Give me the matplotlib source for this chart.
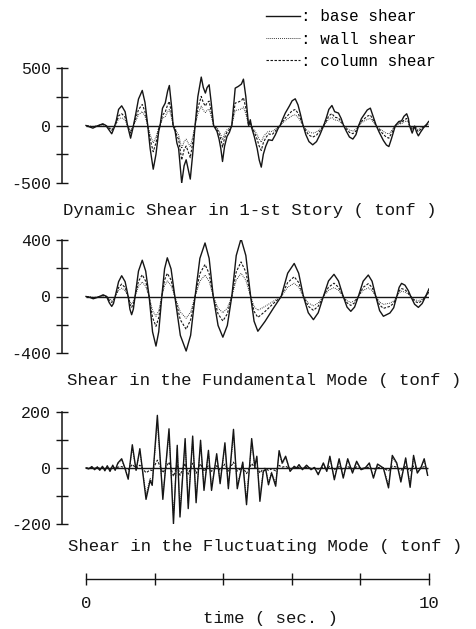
import matplotlib
matplotlib.use("Agg")
import matplotlib.pyplot as plt
from matplotlib.lines import Line2D

plt.rcParams['font.family'] = ['Liberation Mono', 'DejaVu Sans Mono']

# ---- panel 1: dynamic shear in 1-st story (tonf) ----
t1 = [0.00, 0.20, 0.32, 0.49, 0.58, 0.75, 0.82, 0.88, 0.95, 1.04,
      1.14, 1.21, 1.30, 1.37, 1.45, 1.53, 1.64, 1.72, 1.80, 1.87,
      1.96, 2.04, 2.12, 2.16, 2.23, 2.31, 2.38, 2.43, 2.50, 2.54,
      2.60, 2.65, 2.70, 2.73, 2.79, 2.86, 2.92, 2.98, 3.04, 3.11,
      3.18, 3.26, 3.36, 3.42, 3.48, 3.53, 3.59, 3.65, 3.72, 3.82,
      3.88, 3.93, 3.98, 4.04, 4.11, 4.18, 4.25, 4.31, 4.35, 4.44,
      4.53, 4.59, 4.66, 4.74, 4.79, 4.83, 4.91, 4.99, 5.05, 5.11,
      5.17, 5.24, 5.32, 5.43, 5.52, 5.61, 5.66, 5.74, 5.81, 5.93,
      6.01, 6.10, 6.18, 6.25, 6.33, 6.41, 6.50, 6.61, 6.72, 6.82,
      6.93, 7.01, 7.08, 7.17, 7.25, 7.36, 7.44, 7.51, 7.59, 7.68,
      7.78, 7.87, 7.95, 8.03, 8.12, 8.20, 8.29, 8.36, 8.46, 8.55,
      8.67, 8.76, 8.83, 8.90, 9.02, 9.12, 9.20, 9.27, 9.35, 9.40,
      9.43, 9.51, 9.58, 9.64, 9.69, 9.75, 9.84, 9.93, 9.99]
base1 = [0, -23, -5, 15, 0, -72, -20, 40, 140, 171,
         120, 0, -110, -20, 100, 230, 305, 200, 0, -200,
         -380, -250, -50, 0, 150, 195, 300, 348, 150, 0,
         -52, -153, -200, -300, -500, -350, -298, -380, -466, -250,
         0, 250, 421, 330, 282, 330, 354, 200, 0, -52,
         -120, -200, -313, -180, -96, -60, 0, 200, 325, 340,
         360, 403, 250, 0, 50, -20, -100, -200, -300, -362,
         -250, -180, -124, -130, -81, -20, 0, 60, 108, 170,
         215, 232, 180, 100, 0, -80, -140, -168, -140, -80,
         0, 70, 140, 174, 120, 108, 60, 0, -50, -100,
         -118, -80, 0, 60, 100, 135, 151, 90, 0, -60,
         -130, -170, -183, -120, 0, 35, 40, 80, 102, 60,
         0, -66, -5, -60, -90, -60, -20, 10, 35]
col1 = [0, -14, -3, 9, 0, -43, -12, 24, 84, 103,
        72, 0, -66, -12, 60, 138, 183, 120, 0, -120,
        -228, -150, -30, 0, 90, 117, 180, 209, 90, 0,
        -31, -92, -120, -180, -300, -210, -179, -228, -280, -150,
        0, 150, 253, 198, 169, 198, 212, 120, 0, -31,
        -72, -120, -188, -108, -58, -36, 0, 120, 195, 204,
        216, 242, 150, 0, 30, -12, -60, -120, -180, -217,
        -150, -108, -74, -78, -49, -12, 0, 36, 65, 102,
        129, 139, 108, 60, 0, -48, -84, -101, -84, -48,
        0, 42, 84, 104, 72, 65, 36, 0, -30, -60,
        -71, -48, 0, 36, 60, 81, 91, 54, 0, -36,
        -78, -102, -110, -72, 0, 21, 24, 48, 61, 36,
        0, -40, -3, -36, -54, -36, -12, 6, 21]
wall1 = [0, -9, -2, 6, 0, -29, -8, 16, 56, 68,
         48, 0, -44, -8, 40, 92, 122, 80, 0, -80,
         -152, -100, -20, 0, 60, 78, 120, 139, 60, 0,
         -21, -61, -80, -120, -200, -140, -119, -152, -186, -100,
         0, 100, 168, 132, 113, 132, 142, 80, 0, -21,
         -48, -80, -125, -72, -38, -24, 0, 80, 130, 136,
         144, 161, 100, 0, 20, -8, -40, -80, -120, -145,
         -100, -72, -50, -52, -32, -8, 0, 24, 43, 68,
         86, 93, 72, 40, 0, -32, -56, -67, -56, -32,
         0, 28, 56, 70, 48, 43, 24, 0, -20, -40,
         -47, -32, 0, 24, 40, 54, 60, 36, 0, -24,
         -52, -68, -73, -48, 0, 14, 16, 32, 41, 24,
         0, -26, -2, -24, -36, -24, -8, 4, 14]

# ---- panel 2: shear in the fundamental mode (tonf) ----
t2 = [0.00, 0.10, 0.21, 0.35, 0.50, 0.60, 0.68, 0.75, 0.80, 0.85,
      0.95, 1.04, 1.14, 1.23, 1.28, 1.33, 1.38, 1.43, 1.53, 1.64,
      1.74, 1.84, 1.94, 2.04, 2.12, 2.21, 2.29, 2.37, 2.48, 2.59,
      2.75, 2.92, 3.05, 3.18, 3.32, 3.47, 3.59, 3.71, 3.85, 3.99,
      4.12, 4.25, 4.38, 4.52, 4.66, 4.80, 4.90, 5.01, 5.22, 5.46,
      5.69, 5.88, 6.07, 6.20, 6.34, 6.48, 6.63, 6.77, 6.92, 7.07,
      7.23, 7.36, 7.50, 7.61, 7.72, 7.83, 7.94, 8.08, 8.23, 8.34,
      8.45, 8.56, 8.67, 8.86, 8.97, 9.06, 9.13, 9.20, 9.30, 9.40,
      9.47, 9.58, 9.69, 9.80, 9.90, 10.0]
base2 = [0, -5, -16, -5, 12, 0, -45, -70, -50, 0,
         105, 147, 105, 0, -90, -129, -90, 0, 180, 257,
         180, 0, -250, -351, -250, 0, 195, 274, 195, 0,
         -275, -386, -275, 0, 270, 379, 270, 0, -205, -288,
         -205, 0, 290, 409, 290, 0, -175, -246, -176, -84,
         0, 165, 234, 165, 0, -115, -164, -115, 0, 110,
         157, 110, 0, -75, -105, -75, 0, 108, 152, 108,
         0, -100, -140, -117, -80, 0, 65, 93, 80, 40,
         0, -55, -77, -50, 0, 54]
col2 = [0, -3, -10, -3, 7, 0, -27, -42, -30, 0,
        63, 88, 63, 0, -54, -77, -54, 0, 108, 154,
        108, 0, -150, -211, -150, 0, 117, 164, 117, 0,
        -165, -232, -165, 0, 162, 227, 162, 0, -123, -173,
        -123, 0, 174, 245, 174, 0, -105, -148, -106, -50,
        0, 99, 140, 99, 0, -69, -98, -69, 0, 66,
        94, 66, 0, -45, -63, -45, 0, 65, 91, 65,
        0, -60, -84, -70, -48, 0, 39, 56, 48, 24,
        0, -33, -46, -30, 0, 32]
wall2 = [0, -2, -6, -2, 5, 0, -18, -28, -20, 0,
         42, 59, 42, 0, -36, -52, -36, 0, 72, 103,
         72, 0, -100, -140, -100, 0, 78, 110, 78, 0,
         -110, -154, -110, 0, 108, 152, 108, 0, -82, -115,
         -82, 0, 116, 164, 116, 0, -70, -98, -70, -34,
         0, 66, 94, 66, 0, -46, -66, -46, 0, 44,
         63, 44, 0, -30, -42, -30, 0, 43, 61, 43,
         0, -40, -56, -47, -32, 0, 26, 37, 32, 16,
         0, -22, -31, -20, 0, 22]

# ---- panel 3: shear in the fluctuating mode (tonf) ----
t3 = [0.00, 0.08, 0.17, 0.25, 0.33, 0.40, 0.48, 0.55, 0.62, 0.70,
      0.78, 0.85, 0.93, 1.04, 1.12, 1.23, 1.35, 1.46, 1.57, 1.75,
      1.87, 1.93, 2.08, 2.24, 2.42, 2.55, 2.66, 2.74, 2.89, 2.98,
      3.11, 3.21, 3.34, 3.44, 3.57, 3.66, 3.81, 3.91, 4.05, 4.15,
      4.30, 4.41, 4.57, 4.68, 4.83, 4.92, 4.98, 5.07, 5.17, 5.24,
      5.32, 5.41, 5.53, 5.63, 5.72, 5.82, 5.95, 6.07, 6.14, 6.21,
      6.31, 6.43, 6.56, 6.66, 6.77, 6.92, 7.02, 7.11, 7.24, 7.38,
      7.50, 7.63, 7.77, 7.89, 8.02, 8.14, 8.26, 8.38, 8.50, 8.67,
      8.82, 8.93, 9.06, 9.18, 9.32, 9.45, 9.55, 9.66, 9.76, 9.86, 9.96]
base3 = [0, -3, 5, -6, 4, -8, 6, -10, 8, -12,
         10, -8, 18, 33, 5, -40, 83, -8, 69, -112,
         -44, -62, 188, -112, 140, -199, 81, -175, 105, -145,
         114, -124, 99, -80, 63, -80, 51, -56, 90, -74,
         138, -74, 21, -131, 105, 5, 42, -119, -12, -5,
         -60, -18, -65, 62, 18, 42, -12, 6, 0, 12,
         -6, 10, -6, 2, -24, 18, -12, 42, -42, 33,
         -36, 33, -18, 24, -6, 0, 18, -36, 14, 0,
         -71, 45, 18, -50, 36, -69, 45, -18, 0, 33, -26]
wall3 = [0, -3, 4, -5, 3, -7, 5, -8, 7, -10,
         8, -7, 15, 28, 4, -34, 70, -7, 59, -95,
         -37, -53, 160, -95, 119, -169, 69, -149, 89, -123,
         97, -105, 84, -68, 54, -68, 43, -48, 76, -63,
         117, -63, 18, -111, 89, 4, 36, -101, -10, -4,
         -51, -15, -55, 53, 15, 36, -10, 5, 0, 10,
         -5, 8, -5, 2, -20, 15, -10, 36, -36, 28,
         -31, 28, -15, 20, -5, 0, 15, -31, 12, 0,
         -60, 38, 15, -42, 31, -59, 38, -15, 0, 28, -22]
col3 = [0, 0, 1, -1, 1, -1, 1, -2, 1, -2,
        2, -1, 3, 5, 1, -6, 13, -1, 10, -17,
        -7, -9, 28, -17, 21, -30, 12, -26, 16, -22,
        17, -19, 15, -12, 9, -12, 8, -8, 14, -11,
        21, -11, 3, -20, 16, 1, 6, -18, -2, -1,
        -9, -3, -10, 9, 3, 6, -2, 1, 0, 2,
        -1, 2, -1, 0, -4, 3, -2, 6, -6, 5,
        -5, 5, -3, 4, -1, 0, 3, -5, 2, 0,
        -11, 7, 3, -8, 5, -10, 7, -3, 0, 5, -4]

titles = ["Dynamic Shear in 1-st Story ( tonf )",
          "Shear in the Fundamental Mode ( tonf )",
          "Shear in the Fluctuating Mode ( tonf )"]
limits = [500, 400, 200]
time_ticks = [0, 2, 4, 6, 8, 10]
time_labels = ["0", "", "", "", "", "10"]

ink = "#151515"
base_style = dict(color=ink, lw=1.0, ls="-")
col_style = dict(color=ink, lw=0.8, ls=(0, (2.2, 1.4)))
wall_style = dict(color=ink, lw=0.7, ls=(0, (0.8, 1.2)))

W, H = 477, 629
fig = plt.figure(figsize=(W / 100, H / 100), dpi=100)

# axes boxes in pixels: (top of y-axis, bottom of y-axis)
boxes = [(68, 183), (240, 353), (412, 524)]
title_y = [210, 380, 547]
title_x = [63, 67, 68]
series = [(t1, base1, wall1, col1), (t2, base2, wall2, col2), (t3, base3, wall3, col3)]

x0, x1 = 62, 429
for i in range(3):
    top, bot = boxes[i]
    ax = fig.add_axes([x0 / W, 1 - bot / H, (x1 - x0) / W, (bot - top) / H])
    t, b, w, c = series[i]
    ax.hlines(0, t[0], t[-1], color=ink, lw=1.0)
    ax.plot(t, w, **wall_style)
    ax.plot(t, c, **col_style)
    ax.plot(t, b, **base_style)
    lim = limits[i]
    ax.set_xlim(-0.70, 10.0)
    ax.set_ylim(-lim, lim)
    for s in ["top", "right", "bottom"]:
        ax.spines[s].set_visible(False)
    ax.spines["left"].set_linewidth(1.1)
    ax.spines["left"].set_color(ink)
    ax.set_xticks([])
    ax.set_yticks([-lim, -lim / 2, 0, lim / 2, lim])
    ax.set_yticklabels(["-%d" % lim, "", "0", "", "%d" % lim])
    ax.tick_params(axis="y", direction="inout", length=8, width=1.0,
                   color=ink, labelsize=12, pad=4, labelcolor=ink)
    ax.patch.set_visible(False)
    fig.text(title_x[i] / W, 1 - title_y[i] / H, titles[i], fontsize=12.5,
             ha="left", va="center", color=ink)

# time axis
axt = fig.add_axes([x0 / W, 1 - 579 / H, (x1 - x0) / W, 0.01])
axt.set_xlim(-0.70, 10.0)
axt.set_yticks([])
for s in ["top", "right", "left"]:
    axt.spines[s].set_visible(False)
axt.spines["bottom"].set_bounds(time_ticks[0], time_ticks[-1])
axt.spines["bottom"].set_linewidth(1.0)
axt.spines["bottom"].set_color(ink)
axt.set_xticks(time_ticks)
axt.set_xticklabels(time_labels)
axt.tick_params(axis="x", direction="inout", length=9, width=1.0,
                color=ink, labelsize=12.5, pad=8, labelcolor=ink)
axt.patch.set_visible(False)
fig.text(270 / W, 1 - 619 / H, "time ( sec. )", fontsize=12.5, color=ink,
         ha="center", va="center")

# legend
handles = [Line2D([], [], **base_style), Line2D([], [], **wall_style),
           Line2D([], [], **col_style)]
labels = [": base shear", ": wall shear", ": column shear"]
fig.legend(handles, labels, loc="upper left", bbox_to_anchor=(260 / W, 1 - 3 / H),
           frameon=False, handlelength=2.1, handletextpad=0.05,
           labelspacing=0.45, borderaxespad=0, prop={"size": 11.5})

fig.savefig("out.png", dpi=100, facecolor="white")
